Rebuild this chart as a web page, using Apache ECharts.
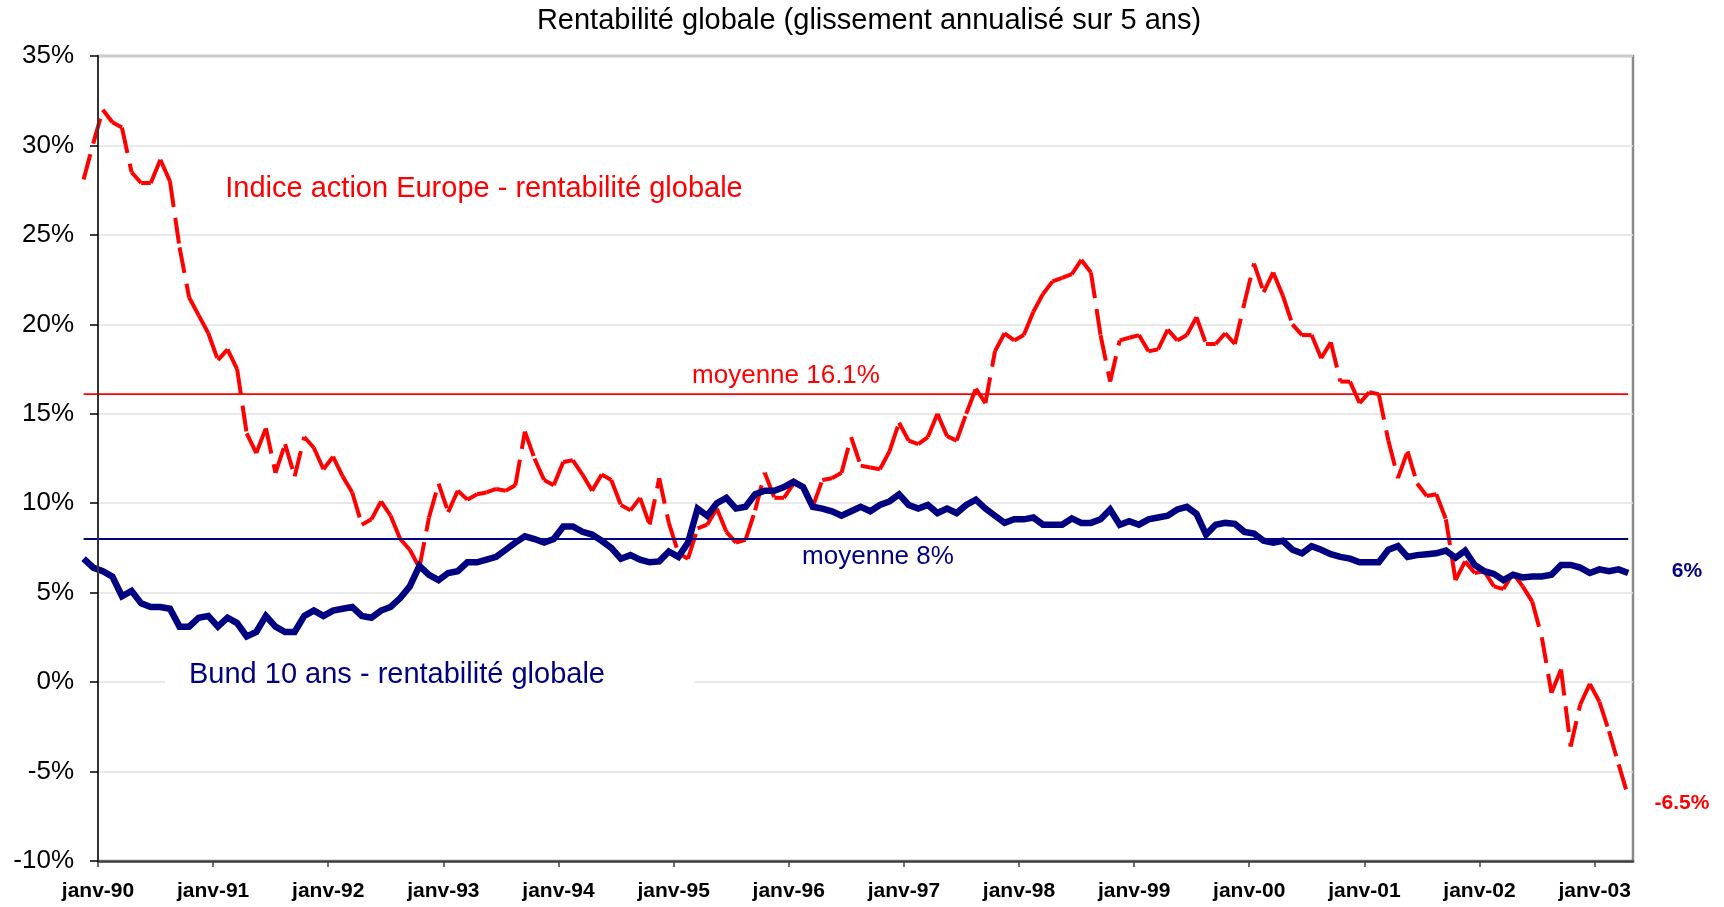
<!DOCTYPE html>
<html>
<head>
<meta charset="utf-8">
<script src="https://cdn.jsdelivr.net/npm/echarts@6/dist/echarts.min.js"></script>
<style>
  html, body { margin: 0; padding: 0; background: #fff; }
  #chart { width: 1724px; height: 907px; }
</style>
</head>
<body>
<div id="chart"></div>
<script>
// months counted from janv-90; first point sits a little before the y axis
var firstMonth = -1.5;

// Indice action Europe - rentabilité globale (%)
var actionEurope = [
  28.1, 30.1, 32.0, 31.3, 31.0, 28.5, 27.9, 27.9, 29.2, 28.0, 24.3, 21.5,
  20.5, 19.5, 18.0, 18.6, 17.5, 13.9, 12.8, 14.2, 11.7, 13.3, 11.5, 13.7,
  13.1, 11.9, 12.6, 11.5, 10.6, 8.8, 9.1, 10.1, 9.3, 8.0, 7.4, 6.4,
  9.2, 11.1, 9.5, 10.7, 10.2, 10.5, 10.6, 10.8, 10.7, 11.0, 14.0, 12.5,
  11.3, 11.0, 12.3, 12.4, 11.6, 10.7, 11.6, 11.3, 9.9, 9.6, 10.3, 8.8,
  11.4, 8.9, 7.2, 6.9, 8.6, 8.8, 9.7, 8.4, 7.8, 7.95, 9.6, 11.7,
  10.3, 10.3, 11.1, 10.9, 9.8, 11.3, 11.4, 11.7, 13.7, 12.1, 12.0, 11.9,
  12.9, 14.5, 13.5, 13.3, 13.7, 15.0, 13.75, 13.5, 15.0, 16.4, 15.6, 18.5,
  19.5, 19.1, 19.4, 20.7, 21.7, 22.4, 22.6, 22.8, 23.6, 22.9, 19.4, 16.8,
  19.1, 19.25, 19.4, 18.5, 18.6, 19.7, 19.1, 19.4, 20.4, 18.9, 18.9, 19.5,
  18.9, 21.2, 23.4, 21.8, 22.9, 21.6, 20.0, 19.4, 19.4, 18.1, 19.0, 16.8,
  16.8, 15.6, 16.2, 16.1, 13.5, 11.4, 12.9, 11.1, 10.4, 10.5, 9.1, 5.7,
  6.75, 6.1, 6.2, 5.35, 5.2, 6.1, 5.35, 4.5, 2.5, -0.6, 0.7, -3.6,
  -1.25, -0.1, -1.1, -2.75, -4.6, -6.4
];

// Bund 10 ans - rentabilité globale (%)
var bund10 = [
  6.9, 6.4, 6.2, 5.9, 4.8, 5.1, 4.4, 4.2, 4.2, 4.1, 3.1, 3.1,
  3.6, 3.7, 3.1, 3.6, 3.3, 2.55, 2.8, 3.7, 3.1, 2.8, 2.8, 3.7,
  4.0, 3.7, 4.0, 4.1, 4.2, 3.7, 3.6, 4.0, 4.2, 4.7, 5.35, 6.5,
  6.0, 5.7, 6.1, 6.2, 6.7, 6.7, 6.85, 7.0, 7.4, 7.8, 8.15, 8.0,
  7.8, 8.0, 8.7, 8.7, 8.4, 8.25, 7.9, 7.5, 6.9, 7.1, 6.85, 6.7,
  6.75, 7.3, 7.0, 7.8, 9.7, 9.3, 10.0, 10.3, 9.7, 9.8, 10.5, 10.7,
  10.7, 10.9, 11.2, 10.9, 9.8, 9.7, 9.55, 9.3, 9.55, 9.8, 9.55, 9.9,
  10.1, 10.5, 9.9, 9.7, 9.9, 9.45, 9.7, 9.45, 9.9, 10.2, 9.7, 9.3,
  8.9, 9.1, 9.1, 9.2, 8.8, 8.8, 8.8, 9.15, 8.9, 8.9, 9.1, 9.65,
  8.8, 9.0, 8.8, 9.1, 9.2, 9.3, 9.65, 9.8, 9.4, 8.25, 8.8, 8.9,
  8.85, 8.4, 8.3, 7.9, 7.8, 7.9, 7.4, 7.2, 7.6, 7.4, 7.15, 7.0,
  6.9, 6.7, 6.7, 6.7, 7.4, 7.6, 7.0, 7.1, 7.15, 7.2, 7.35, 6.95,
  7.35, 6.55, 6.2, 6.05, 5.7, 6.0, 5.85, 5.9, 5.9, 6.0, 6.55, 6.55,
  6.4, 6.1, 6.3, 6.2, 6.3, 6.1
];

var moyenneAction = 16.1;
var moyenneBund = 8;

// janv-90 ... janv-03, in months from janv-90
var yearTicks = [0, 12, 24, 36, 48, 60, 72, 84, 96, 108, 120, 132, 144, 156];
var yMin = -10, yMax = 35, yStep = 5;

var lastMonth = firstMonth + actionEurope.length - 1;
var font = '"Liberation Sans", Arial, sans-serif';

function toPoints(values) {
  return values.map(function (v, i) { return [firstMonth + i, v]; });
}
var actionPoints = toPoints(actionEurope);

var myChart = echarts.init(document.getElementById('chart'));
var gridLeft = 83.6;   // where the first point falls
var axisX = 98;        // where janv-90 / the y axis falls

var option = {
  animation: false,
  backgroundColor: '#fff',
  grid: {
    left: gridLeft, right: 91, top: 56, bottom: 46,
    show: true, borderColor: '#8a8a8a', borderWidth: 2.5, backgroundColor: 'transparent'
  },
  xAxis: {
    type: 'value',
    min: firstMonth, max: 160,
    axisLine: { show: true, onZero: false, lineStyle: { color: '#404040', width: 2.5 } },
    axisTick: { show: true, length: 6, customValues: yearTicks, lineStyle: { color: '#404040', width: 1.5 } },
    splitLine: { show: false },
    axisLabel: {
      margin: 20, customValues: yearTicks,
      color: '#000', fontFamily: font, fontSize: 21, fontWeight: 'bold',
      formatter: function (v) {
        var yy = Math.round(90 + v / 12) % 100;
        return 'janv-' + (yy < 10 ? '0' + yy : yy);
      }
    }
  },
  yAxis: [
    {
      // gridlines only
      type: 'value', min: yMin, max: yMax, interval: yStep,
      axisLine: { show: false }, axisTick: { show: false }, axisLabel: { show: false },
      splitLine: { show: true, lineStyle: { color: '#e2e2e2', width: 1.5 } }
    },
    {
      // visible axis, crossing at janv-90
      type: 'value', position: 'left', offset: gridLeft - axisX, z: 5,
      min: yMin, max: yMax, interval: yStep,
      axisLine: { show: true, lineStyle: { color: '#333', width: 2 } },
      axisTick: { show: true, length: 8, lineStyle: { color: '#000', width: 1.5 } },
      splitLine: { show: false },
      axisLabel: {
        margin: 24, color: '#000', fontFamily: font, fontSize: 26,
        formatter: function (v) { return v + '%'; }
      }
    }
  ],
  series: [
    {
      name: 'moyenne Bund', type: 'line', symbol: 'none', silent: true,
      data: [[firstMonth, moyenneBund], [lastMonth, moyenneBund]],
      lineStyle: { color: '#000080', width: 1.8 }
    },
    {
      name: 'moyenne action', type: 'line', symbol: 'none', silent: true,
      data: [[firstMonth, moyenneAction], [lastMonth, moyenneAction]],
      lineStyle: { color: '#ff0000', width: 1.8 }
    },
    {
      name: 'Bund 10 ans - rentabilité globale', type: 'line', symbol: 'none',
      data: toPoints(bund10),
      lineStyle: { color: '#000080', width: 6.5, join: 'miter' }
    },
    {
      // dashed line whose dash pattern restarts at every month, as in the original
      name: 'Indice action Europe - rentabilité globale', type: 'custom',
      data: actionPoints,
      encode: { x: 0, y: 1 },
      renderItem: function (params, api) {
        var i = params.dataIndex;
        if (i >= actionPoints.length - 1) return null;
        var p0 = api.coord(actionPoints[i]);
        var p1 = api.coord(actionPoints[i + 1]);
        return {
          type: 'line',
          shape: { x1: p0[0], y1: p0[1], x2: p1[0], y2: p1[1] },
          style: { stroke: '#ff0000', lineWidth: 4, lineDash: [26, 11], lineCap: 'butt' }
        };
      }
    }
  ],
  graphic: [
    // blank strip left of the y axis: gridlines and frame start at janv-90
    { type: 'rect', z: 1, silent: true,
      shape: { x: gridLeft - 4, y: 50, width: axisX - gridLeft + 3, height: 816 },
      style: { fill: '#fff' } },
    { type: 'text', z: 100, style: { text: 'Rentabilité globale (glissement annualisé sur 5 ans)', x: 869, y: 21,
      font: '29px ' + font, fill: '#000', align: 'center', verticalAlign: 'middle', textAlign: 'center', textVerticalAlign: 'middle' } },
    { type: 'text', z: 100, style: { text: 'Indice action Europe - rentabilité globale', x: 484, y: 189,
      font: '29px ' + font, fill: '#ff0000', align: 'center', verticalAlign: 'middle', textAlign: 'center', textVerticalAlign: 'middle' } },
    { type: 'text', z: 100, style: { text: 'Bund 10 ans - rentabilité globale', x: 165, y: 675,
      font: '29px ' + font, fill: '#000080', align: 'left', verticalAlign: 'middle', textAlign: 'left', textVerticalAlign: 'middle',
      backgroundColor: '#fff', padding: [8, 90, 8, 24] } },
    { type: 'text', z: 100, style: { text: 'moyenne 16.1%', x: 786, y: 376,
      font: '26px ' + font, fill: '#ff0000', align: 'center', verticalAlign: 'middle', textAlign: 'center', textVerticalAlign: 'middle' } },
    { type: 'text', z: 100, style: { text: 'moyenne 8%', x: 878, y: 557,
      font: '26px ' + font, fill: '#000080', align: 'center', verticalAlign: 'middle', textAlign: 'center', textVerticalAlign: 'middle' } },
    { type: 'text', z: 100, style: { text: '6%', x: 1687, y: 571,
      font: 'bold 21px ' + font, fill: '#000080', align: 'center', verticalAlign: 'middle', textAlign: 'center', textVerticalAlign: 'middle' } },
    { type: 'text', z: 100, style: { text: '-6.5%', x: 1682, y: 803,
      font: 'bold 21px ' + font, fill: '#ff0000', align: 'center', verticalAlign: 'middle', textAlign: 'center', textVerticalAlign: 'middle' } }
  ]
};
myChart.setOption(option);
window.addEventListener('resize', function () {
  myChart.resize();
});
</script>
</body>
</html>
